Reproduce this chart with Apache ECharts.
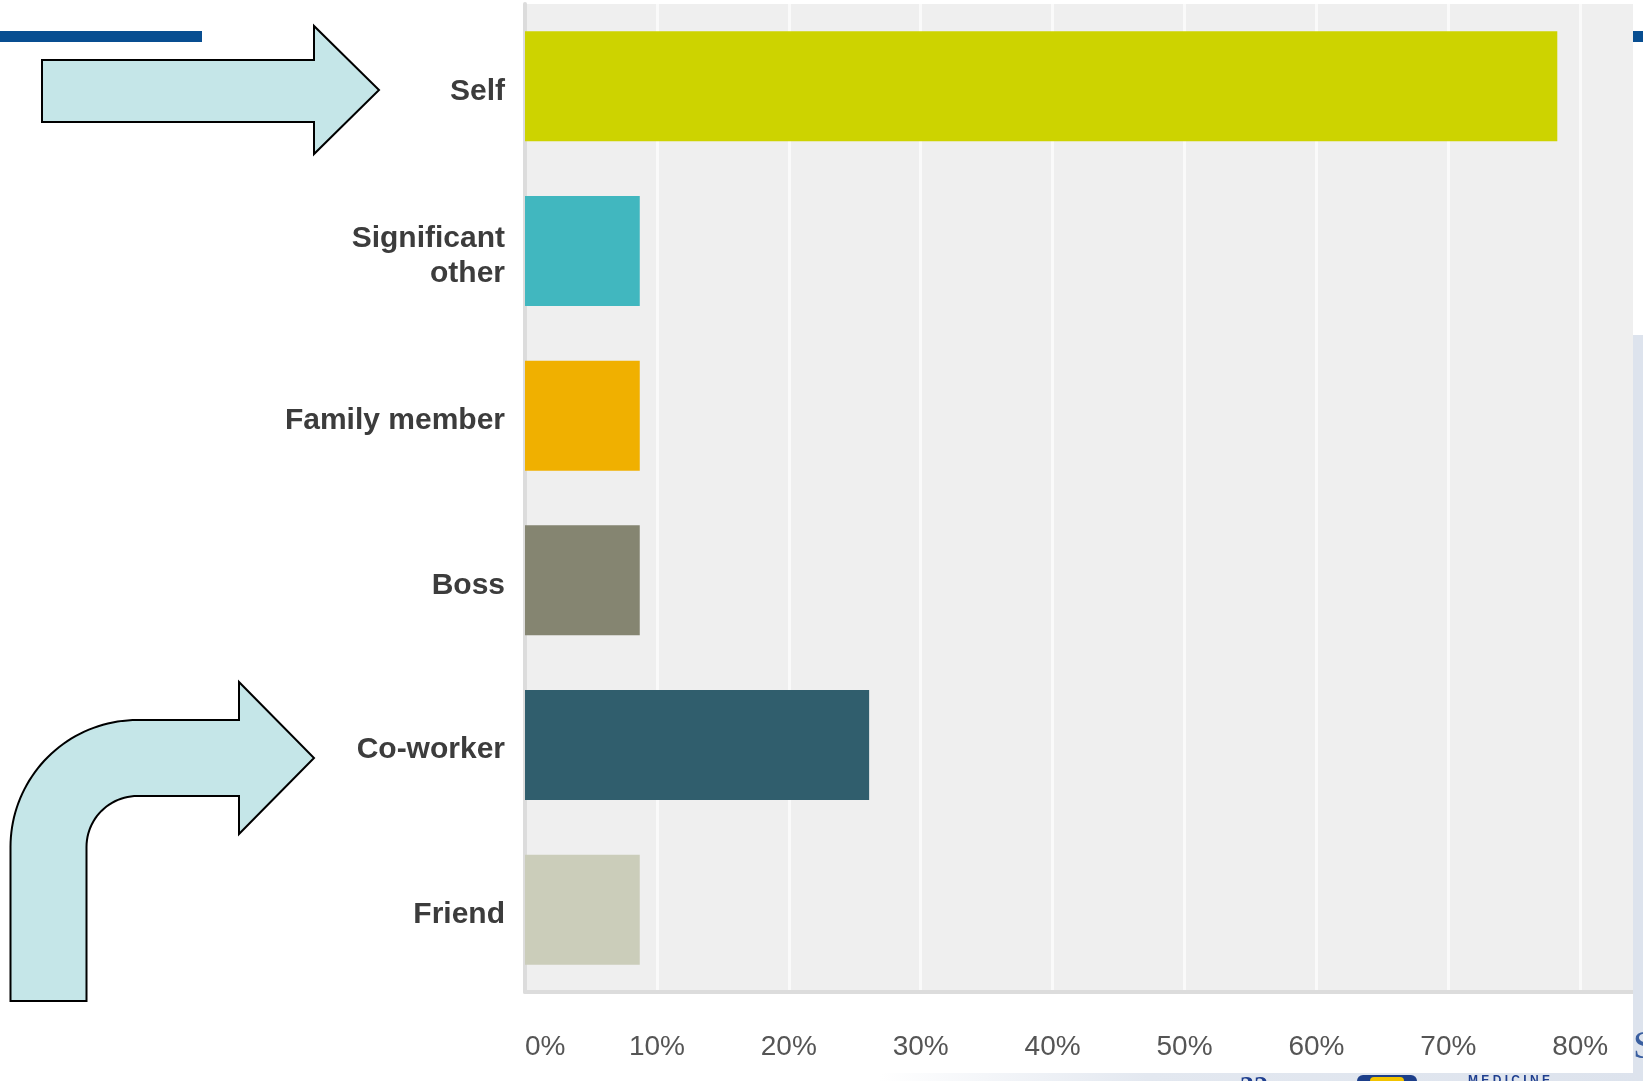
<!DOCTYPE html>
<html>
<head>
<meta charset="utf-8">
<title>Who did you do it for?</title>
<script src="https://cdn.jsdelivr.net/npm/echarts@6/dist/echarts.min.js"></script>
<style>
  html, body { margin: 0; padding: 0; background: #ffffff; }
  #chart { width: 1643px; height: 1081px; }
</style>
</head>
<body>
<div id="chart"></div>
<script>
// Survey answers (share of respondents, %)
const categories = ['Self', 'Significant other', 'Family member', 'Boss', 'Co-worker', 'Friend'];
const shares = [78.26, 8.70, 8.70, 8.70, 26.09, 8.70];
const barColors = ['#cdd300', '#41b7bf', '#f0b000', '#858571', '#305e6d', '#cbcdba'];
const tickValues = [0, 10, 20, 30, 40, 50, 60, 70, 80];

// Multi-line form of long category names
const wrapped = { 'Significant other': 'Significant\nother' };

const chart = echarts.init(document.getElementById('chart'), null, { renderer: 'canvas' });

const fill = '#c5e6e8';
const outline = '#000000';

// Quarter-circle points from angle a0 to a1 (radians) around (cx, cy)
function arc(cx, cy, r, a0, a1, steps) {
  const pts = [];
  for (let i = 0; i <= steps; i++) {
    const a = a0 + (a1 - a0) * i / steps;
    pts.push([cx + r * Math.cos(a), cy + r * Math.sin(a)]);
  }
  return pts;
}

// Bent pointer outline: up the shaft, round the corner, out to the head and back
const cx = 137.5, cy = 847;
const bentPoints = [[10.5, 1001]]
  .concat(arc(cx, cy, 127, Math.PI, 1.5 * Math.PI, 40))
  .concat([[239, 720], [239, 682], [314, 758], [239, 834], [239, 796]])
  .concat(arc(cx, cy, 51, 1.5 * Math.PI, Math.PI, 24))
  .concat([[86.5, 1001]]);

chart.setOption({
  animation: false,
  backgroundColor: '#ffffff',
  grid: {
    left: 525, right: 10, top: 4, bottom: 89,
    show: true, backgroundColor: '#efefef', borderWidth: 0
  },
  xAxis: {
    type: 'value',
    min: 0,
    max: 84,
    interval: 10,
    axisLine: { show: true, lineStyle: { color: '#dcdcdc', width: 4 } },
    axisTick: { show: false },
    splitLine: {
      show: true, showMinLine: false, showMaxLine: false,
      lineStyle: { color: '#fafafa', width: 3 }
    },
    axisLabel: {
      margin: 41,
      fontFamily: 'Liberation Sans, Arial, sans-serif',
      fontSize: 28,
      color: '#555555',
      alignMinLabel: 'left',
      formatter: v => (tickValues.indexOf(v) >= 0 ? v + '%' : '')
    }
  },
  yAxis: {
    type: 'category',
    inverse: true,
    data: categories,
    axisLine: { show: true, lineStyle: { color: '#dcdcdc', width: 4 } },
    axisTick: { show: false },
    splitLine: { show: false },
    axisLabel: {
      margin: 20,
      fontFamily: 'Liberation Sans, Arial, sans-serif',
      fontWeight: 'bold',
      fontSize: 30,
      lineHeight: 35,
      color: '#3c3c3c',
      align: 'right',
      // a short empty first line nudges each label a little below the band centre
      formatter: v => '{gap|}\n' + (wrapped[v] || v),
      rich: { gap: { height: 10, lineHeight: 10 } }
    }
  },
  series: [{
    type: 'bar',
    barWidth: 110,
    data: shares.map((v, i) => ({ value: v, itemStyle: { color: barColors[i] } })),
    z: 3
  }],
  graphic: [
    // slide header rule
    { type: 'rect', shape: { x: 0, y: 31, width: 202, height: 11 }, style: { fill: '#084e91' }, z: 20 },
    { type: 'rect', shape: { x: 1633, y: 31, width: 10, height: 11 }, style: { fill: '#084e91' }, z: 20 },
    // slide background peeking past the chart
    { type: 'rect', shape: { x: 1633, y: 335, width: 10, height: 746 }, style: { fill: '#dde3ed' }, z: 1 },
    {
      type: 'rect', shape: { x: 880, y: 1073, width: 763, height: 8 },
      style: {
        fill: new echarts.graphic.LinearGradient(0, 0, 1, 0, [
          { offset: 0, color: '#ffffff' }, { offset: 0.35, color: '#e3e8f0' }, { offset: 1, color: '#dde3ed' }
        ])
      }, z: 1
    },
    { type: 'text', x: 1240, y: 1074, style: { text: '32', fill: '#1f3f8f', font: 'bold 28px Liberation Serif', textVerticalAlign: 'top' }, z: 2 },
    { type: 'rect', shape: { x: 1357, y: 1075, width: 60, height: 6, r: [6, 6, 0, 0] }, style: { fill: '#1d3f8a' }, z: 2 },
    { type: 'rect', shape: { x: 1370, y: 1077, width: 34, height: 4, r: [4, 4, 0, 0] }, style: { fill: '#f2c300' }, z: 3 },
    { type: 'text', x: 1468, y: 1075, style: { text: 'M E D I C I N E', fill: '#1f3f8f', font: 'bold 12px Liberation Sans', textVerticalAlign: 'top' }, z: 2 },
    { type: 'text', x: 1633, y: 1047, style: { text: 'S', fill: '#3a5fa0', font: '40px Liberation Serif', textVerticalAlign: 'middle' }, z: 2 },
    // straight pointer
    {
      type: 'polygon',
      shape: { points: [[42, 60], [314, 60], [314, 26], [379, 90], [314, 154], [314, 122], [42, 122]] },
      style: { fill: fill, stroke: outline, lineWidth: 2 },
      z: 20
    },
    // bent pointer
    {
      type: 'polygon',
      shape: { points: bentPoints },
      style: { fill: fill, stroke: outline, lineWidth: 2 },
      z: 20
    }
  ]
});
</script>
</body>
</html>
